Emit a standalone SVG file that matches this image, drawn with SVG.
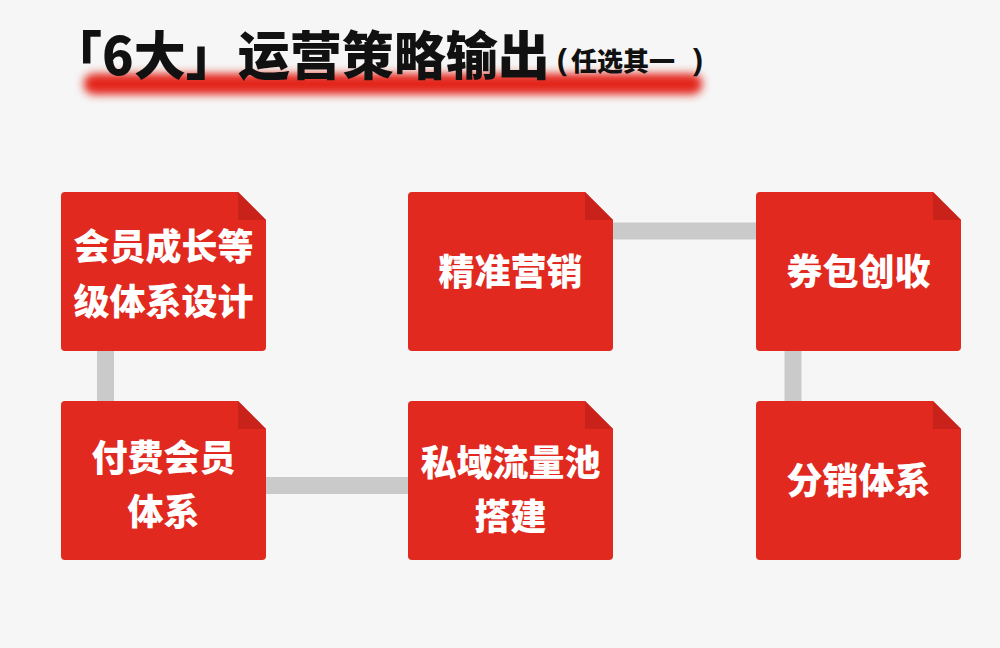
<svg xmlns="http://www.w3.org/2000/svg" width="1000" height="648" viewBox="0 0 1000 648">
  <style>
    .card { fill: #e1291f; }
    .fold { fill: #c8221a; }
    .conn { stroke: #cacaca; stroke-width: 17; fill: none; }
    .lbl { font-family: "Noto Sans CJK SC", "Noto Sans", sans-serif; font-weight: 900; font-size: 36px; fill: #ffffff; text-anchor: middle; }
    .title { font-family: "Noto Sans CJK SC", "Noto Sans", sans-serif; font-weight: 900; fill: #111111; }
  </style>
  <defs>
    <filter id="blur" filterUnits="userSpaceOnUse" x="50" y="40" width="690" height="90">
      <feGaussianBlur stdDeviation="4.5"/>
    </filter>
    <path id="cardShape" d="M4,0 H177 L205,28 V155 Q205,159 201,159 H4 Q0,159 0,155 V4 Q0,0 4,0 Z"/>
    <path id="foldShape" d="M177,0 L205,28 H177 Z"/>
  </defs>
  <rect x="0" y="0" width="1000" height="648" fill="#f6f6f6"/>

  <g id="title">
    <path d="M94,84 H692" stroke="#e3261d" stroke-width="21" stroke-linecap="round" fill="none" filter="url(#blur)"/>
    <text class="title" x="50" y="75" font-size="52">「6大」运营策略输出</text>
    <text class="title" font-size="26" y="71"><tspan x="557" font-size="32" font-family="Noto Sans, sans-serif" font-weight="700">(</tspan><tspan x="571">任选其一</tspan><tspan x="692" font-size="32" font-family="Noto Sans, sans-serif" font-weight="700">)</tspan></text>
  </g>

  <g id="connectors">
    <line class="conn" x1="105.5" y1="350" x2="105.5" y2="403"/>
    <line class="conn" x1="264" y1="485.5" x2="410" y2="485.5"/>
    <line class="conn" x1="611" y1="231" x2="758" y2="231"/>
    <line class="conn" x1="793" y1="350" x2="793" y2="403"/>
  </g>

  <g id="node1" transform="translate(61,192)">
    <use href="#cardShape" class="card"/>
    <use href="#foldShape" class="fold"/>
    <text class="lbl" x="102.5" y="68">会员成长等</text>
    <text class="lbl" x="102.5" y="123">级体系设计</text>
  </g>
  <g id="node2" transform="translate(408,192)">
    <use href="#cardShape" class="card"/>
    <use href="#foldShape" class="fold"/>
    <text class="lbl" x="102.5" y="93">精准营销</text>
  </g>
  <g id="node3" transform="translate(756,192)">
    <use href="#cardShape" class="card"/>
    <use href="#foldShape" class="fold"/>
    <text class="lbl" x="102.5" y="93">券包创收</text>
  </g>
  <g id="node4" transform="translate(61,401)">
    <use href="#cardShape" class="card"/>
    <use href="#foldShape" class="fold"/>
    <text class="lbl" x="102.5" y="70">付费会员</text>
    <text class="lbl" x="102.5" y="124">体系</text>
  </g>
  <g id="node5" transform="translate(408,401)">
    <use href="#cardShape" class="card"/>
    <use href="#foldShape" class="fold"/>
    <text class="lbl" x="102.5" y="75">私域流量池</text>
    <text class="lbl" x="102.5" y="129">搭建</text>
  </g>
  <g id="node6" transform="translate(756,401)">
    <use href="#cardShape" class="card"/>
    <use href="#foldShape" class="fold"/>
    <text class="lbl" x="102.5" y="93">分销体系</text>
  </g>
</svg>
